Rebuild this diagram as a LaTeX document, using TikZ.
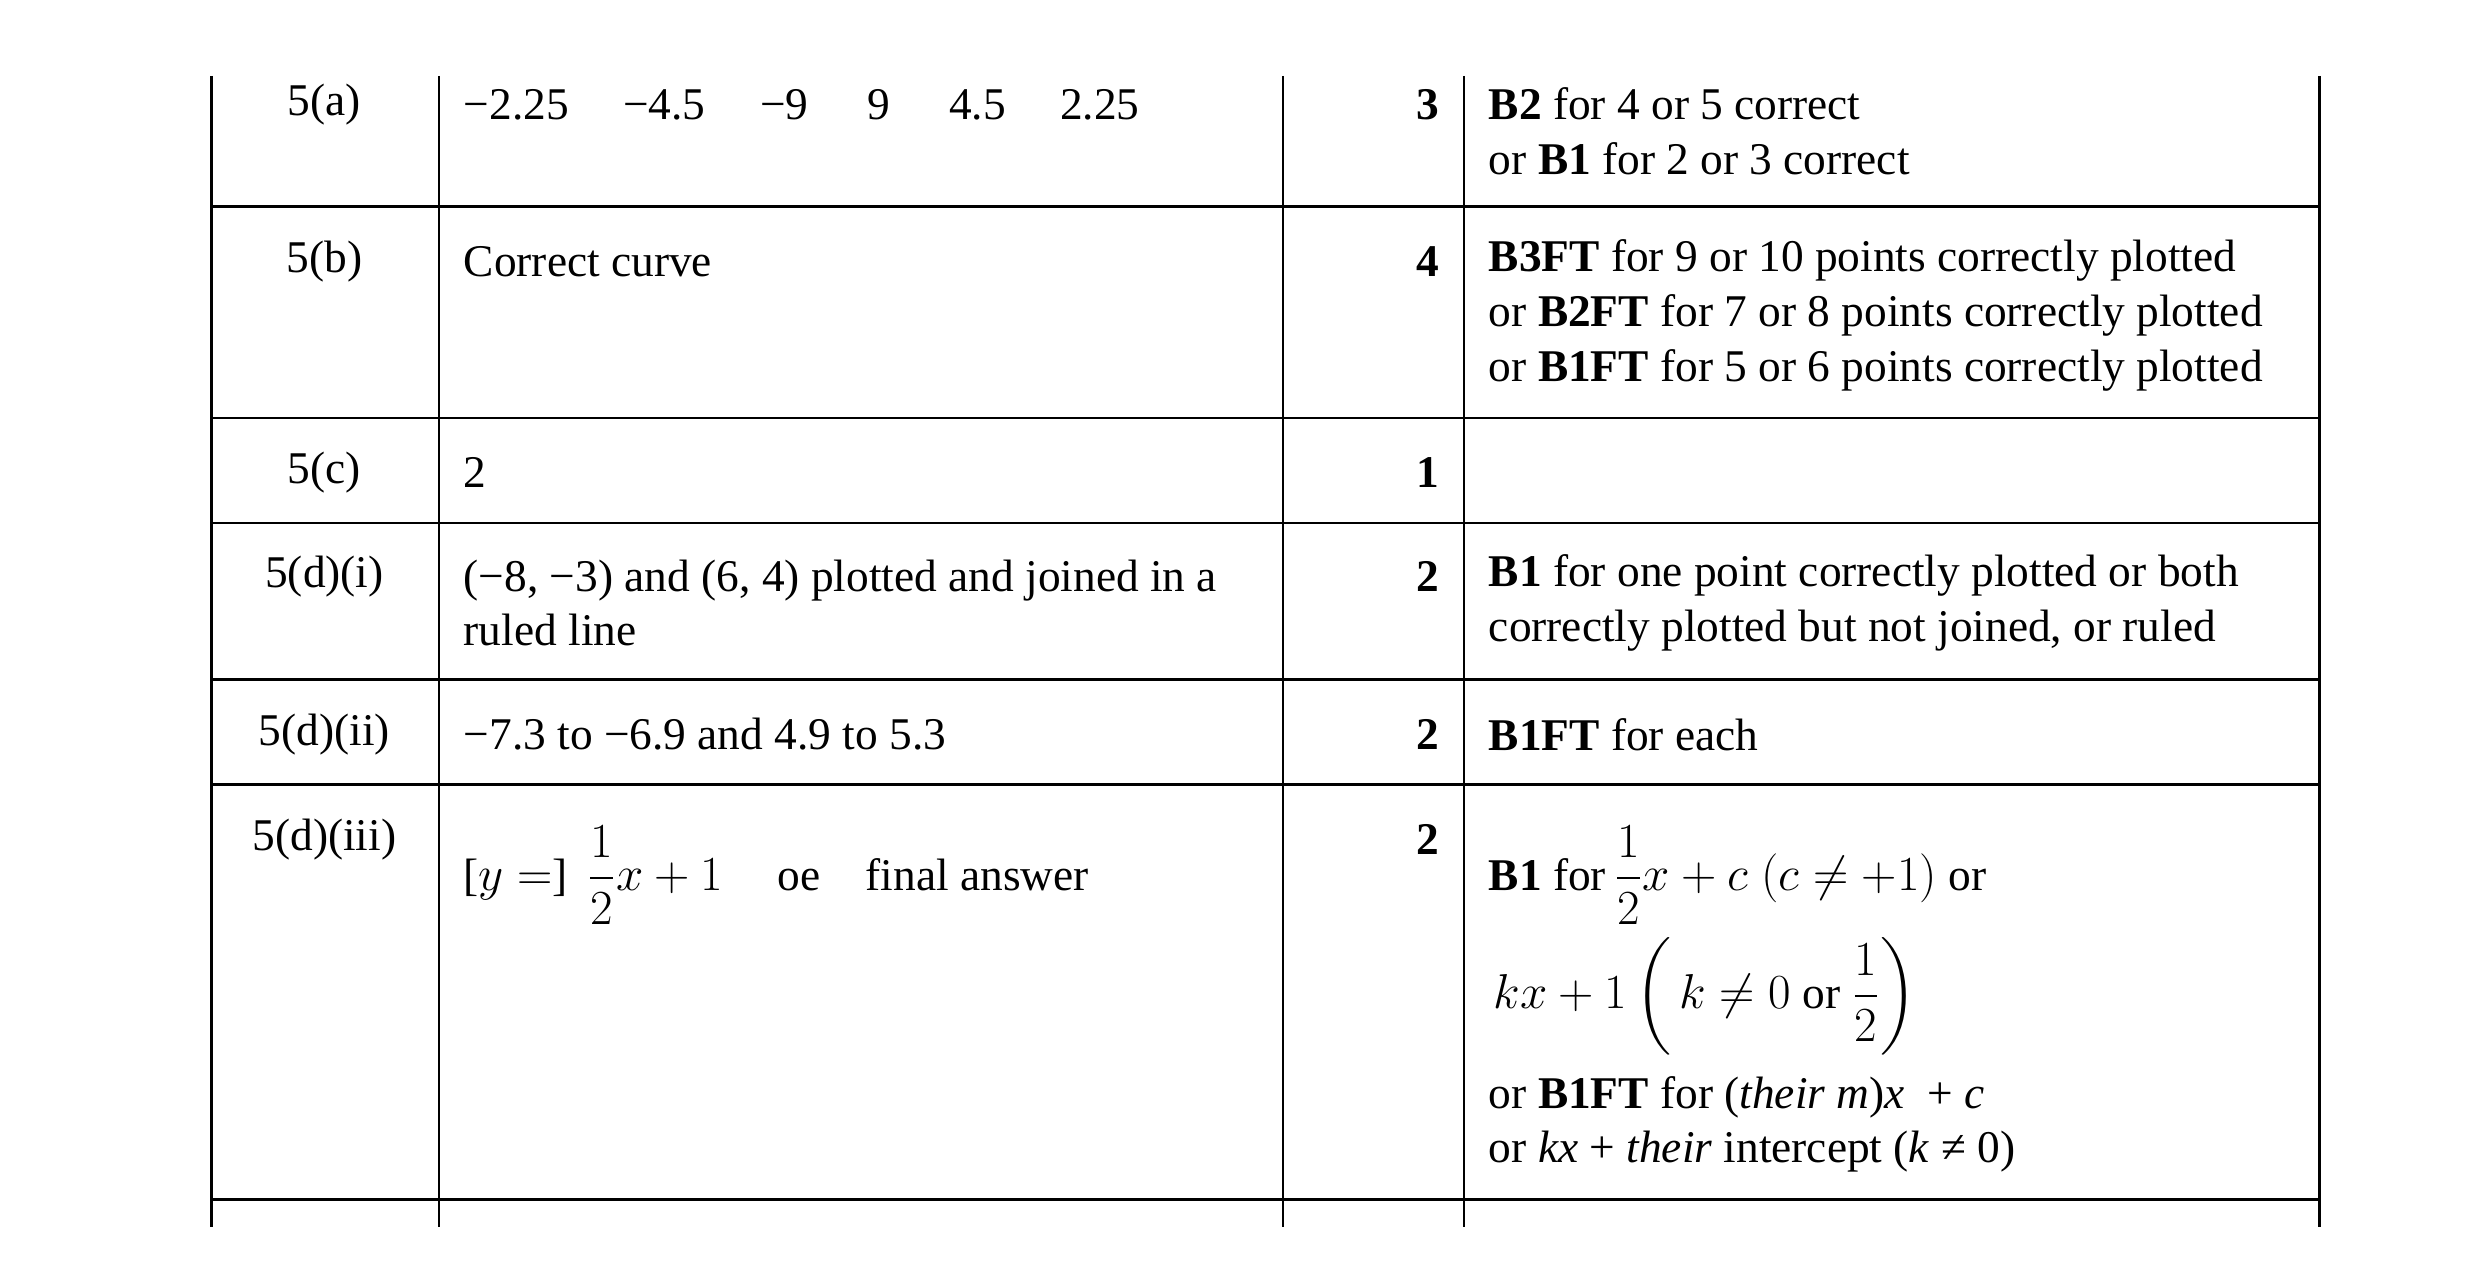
\documentclass[tikz,border=0pt]{standalone}
\usepackage{amsmath}
\usepackage{fontspec}
\setmainfont{Liberation Serif}
\usetikzlibrary{positioning}
\tikzset{
  rule/.style={line width=0.8pt},
  cell/.style={anchor=west, align=left, inner sep=0pt,
    font=\fontsize{16}{19.3}\selectfont},
  qno/.style={anchor=center, inner sep=0pt, font=\fontsize{16}{19.3}\selectfont},
  marks/.style={anchor=east, inner sep=0pt, font=\fontsize{16}{19.3}\selectfont\bfseries}
}
\begin{document}
\begin{tikzpicture}[x=0.02cm,y=-0.02cm]
\useasboundingbox (0,0) rectangle (1537,792);
%----table rules-------------------------------
\foreach \x in {131,272,795,907,1437}
  \draw[rule] (\x,47) -- (\x,760);
\foreach \y in {128,259,324,421,486,743}
  \draw[rule] (131,\y) -- (1437,\y);
%----5(a)--------------------------------------
\node[qno] (qa) at (201,65) {5(a)};
\node[cell] (aa) at (287,65) {−2.25\hspace{1.2em}−4.5\hspace{1.2em}−9\hspace{1.3em}9\hspace{1.3em}4.5\hspace{1.2em}2.25};
\node[marks] (ma) at (892,65) {3};
\node[cell] (ga) at (922,81.5) {\textbf{B2} for 4 or 5 correct\\or \textbf{B1} for 2 or 3 correct};
%----5(b)--------------------------------------
\node[qno] (qb) at (201,162) {5(b)};
\node[cell] (ab) at (287,162) {Correct curve};
\node[marks] (mb) at (892,162) {4};
\node[cell] (gb) at (922,195.5) {\textbf{B3FT} for 9 or 10 points correctly plotted\\or \textbf{B2FT} for 7 or 8 points correctly plotted\\or \textbf{B1FT} for 5 or 6 points correctly plotted};
%----5(c)--------------------------------------
\node[qno] (qc) at (201,293) {5(c)};
\node[cell] (ac) at (287,293) {2};
\node[marks] (mc) at (892,293) {1};
%----5(d)(i)-----------------------------------
\node[qno] (qd) at (201,357) {5(d)(i)};
\node[cell] (ad) at (287,373.5) {(−8, −3) and (6, 4) plotted and joined in a\\ruled line};
\node[marks] (md) at (892,357) {2};
\node[cell] (gd) at (922,373.5) {\textbf{B1} for one point correctly plotted or both\\correctly plotted but not joined, or ruled};
%----5(d)(ii)----------------------------------
\node[qno] (qe) at (201,455) {5(d)(ii)};
\node[cell] (ae) at (287,455) {−7.3 to −6.9 and 4.9 to 5.3};
\node[marks] (me) at (892,455) {2};
\node[cell] (ge) at (922,455) {\textbf{B1FT} for each};
%----5(d)(iii)---------------------------------
\node[qno] (qf) at (201,520) {5(d)(iii)};
\node[cell] (af) at (287,542) {[$y=$]\, $\dfrac{1}{2}x+1$\hspace{1.2em}oe\hspace{1em}final answer};
\node[marks] (mf) at (892,520) {2};
\node[cell] (gf1) at (922,542) {\textbf{B1} for\,$\dfrac{1}{2}x+c\;(c\neq +1)$ or};
\node[cell] (gf2) at (925,617) {$kx+1\left(\,k\neq 0 \text{ or } \dfrac{1}{2}\right)$};
\node[cell] (gf3) at (922,696.5) {or \textbf{B1FT} for (\textit{their m})\textit{x}\ \ + \textit{c}\\or \textit{kx} + \textit{their} intercept (\textit{k} ≠ 0)};
\end{tikzpicture}
\end{document}
